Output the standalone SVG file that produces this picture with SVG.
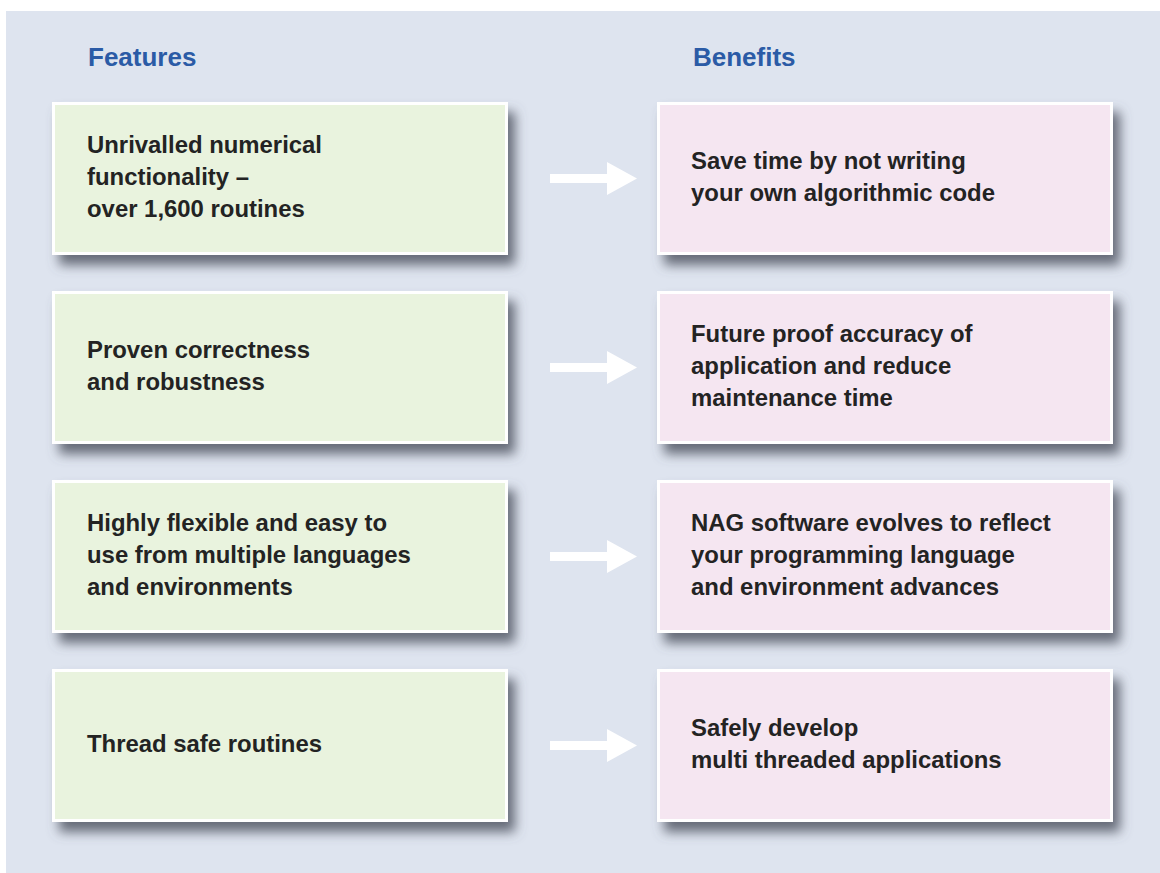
<svg xmlns="http://www.w3.org/2000/svg" width="1160" height="873" viewBox="0 0 1160 873">
<defs>
<filter id="sh" x="-10%" y="-20%" width="130%" height="150%">
<feDropShadow dx="7" dy="10" stdDeviation="6" flood-color="#585e6c" flood-opacity="0.9"/>
</filter>
<style>
.hdr{font-family:"Liberation Sans",Arial,sans-serif;font-weight:bold;font-size:26px;fill:#2b5ba6}
.t{font-family:"Liberation Sans",Arial,sans-serif;font-weight:bold;font-size:23.9px;fill:#232323}
.feat{fill:#e9f3de;stroke:#ffffff;stroke-width:3}
.ben{fill:#f5e6f1;stroke:#ffffff;stroke-width:3}
.arr{fill:#ffffff}
</style>
</defs>
<rect x="0" y="0" width="1160" height="873" fill="#ffffff"/>
<rect x="6" y="11" width="1154" height="862" fill="#dee4ef"/>
<text class="hdr" x="88" y="66">Features</text>
<text class="hdr" x="693" y="66">Benefits</text>

<g id="f1"><rect class="feat" x="53.5" y="103.5" width="453" height="150" filter="url(#sh)"/>
<text class="t" x="87"><tspan x="87" y="153">Unrivalled numerical</tspan><tspan x="87" y="185">functionality –</tspan><tspan x="87" y="217">over 1,600 routines</tspan></text></g>
<g id="f2"><rect class="feat" x="53.5" y="292.5" width="453" height="150" filter="url(#sh)"/>
<text class="t"><tspan x="87" y="358">Proven correctness</tspan><tspan x="87" y="390">and robustness</tspan></text></g>
<g id="f3"><rect class="feat" x="53.5" y="481.5" width="453" height="150" filter="url(#sh)"/>
<text class="t"><tspan x="87" y="531">Highly flexible and easy to</tspan><tspan x="87" y="563">use from multiple languages</tspan><tspan x="87" y="595">and environments</tspan></text></g>
<g id="f4"><rect class="feat" x="53.5" y="670.5" width="453" height="150" filter="url(#sh)"/>
<text class="t"><tspan x="87" y="752">Thread safe routines</tspan></text></g>

<g id="b1"><rect class="ben" x="658.5" y="103.5" width="453" height="150" filter="url(#sh)"/>
<text class="t"><tspan x="691" y="169">Save time by not writing</tspan><tspan x="691" y="201">your own algorithmic code</tspan></text></g>
<g id="b2"><rect class="ben" x="658.5" y="292.5" width="453" height="150" filter="url(#sh)"/>
<text class="t"><tspan x="691" y="342">Future proof accuracy of</tspan><tspan x="691" y="374">application and reduce</tspan><tspan x="691" y="406">maintenance time</tspan></text></g>
<g id="b3"><rect class="ben" x="658.5" y="481.5" width="453" height="150" filter="url(#sh)"/>
<text class="t"><tspan x="691" y="531">NAG software evolves to reflect</tspan><tspan x="691" y="563">your programming language</tspan><tspan x="691" y="595">and environment advances</tspan></text></g>
<g id="b4"><rect class="ben" x="658.5" y="670.5" width="453" height="150" filter="url(#sh)"/>
<text class="t"><tspan x="691" y="736">Safely develop</tspan><tspan x="691" y="768">multi threaded applications</tspan></text></g>

<g id="connectors">
<path class="arr" d="M550,174 H607 V162 L637,178.5 L607,195 V183 H550 Z"/>
<path class="arr" d="M550,363 H607 V351 L637,367.5 L607,384 V372 H550 Z"/>
<path class="arr" d="M550,552 H607 V540 L637,556.5 L607,573 V561 H550 Z"/>
<path class="arr" d="M550,741 H607 V729 L637,745.5 L607,762 V750 H550 Z"/>
</g>
</svg>
